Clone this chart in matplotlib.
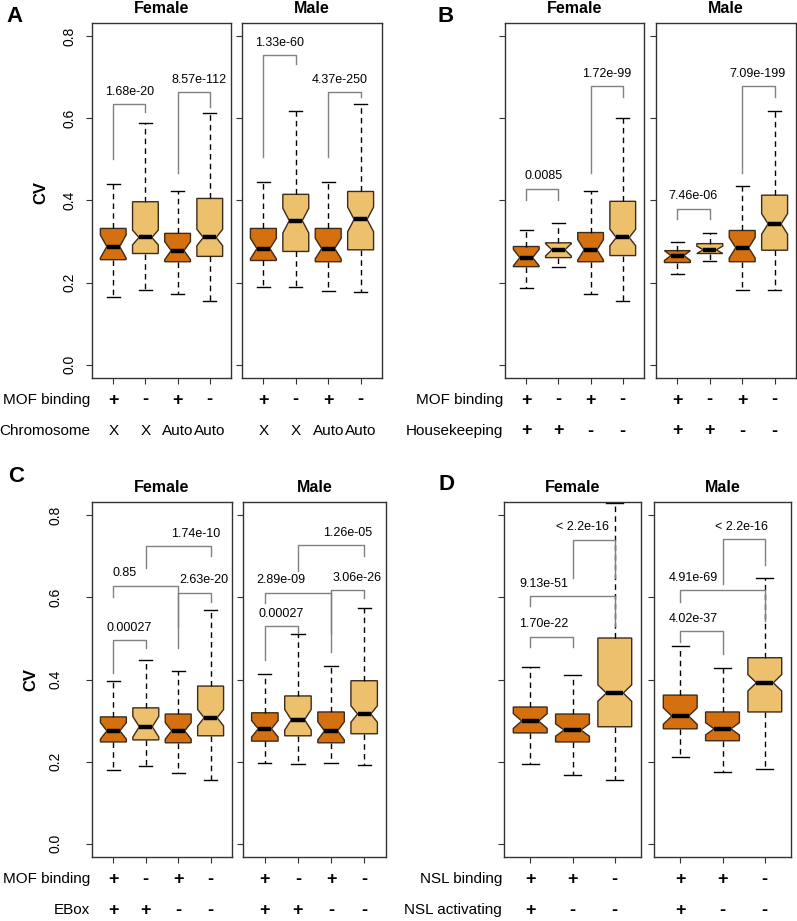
import matplotlib
matplotlib.use("Agg")
import matplotlib.pyplot as plt
from matplotlib import transforms

plt.rcParams["font.family"] = ["Liberation Sans", "DejaVu Sans"]

DARK = "#D4700F"
LIGHT = "#ECC06D"
EDGE = "#3d2b1a"
BRACKET = "#808080"

# five-number summaries per box: (lower whisker, q1, median, q3, upper whisker)
a_female = [(0.166, 0.256, 0.288, 0.332, 0.441), (0.183, 0.271, 0.310, 0.397, 0.588),
            (0.173, 0.251, 0.278, 0.320, 0.422), (0.156, 0.264, 0.310, 0.405, 0.612)]
a_male = [(0.190, 0.254, 0.283, 0.332, 0.444), (0.190, 0.276, 0.351, 0.415, 0.617),
          (0.180, 0.251, 0.283, 0.332, 0.444), (0.178, 0.280, 0.354, 0.422, 0.636)]
b_female = [(0.188, 0.239, 0.261, 0.288, 0.327), (0.237, 0.261, 0.280, 0.297, 0.346),
            (0.173, 0.251, 0.280, 0.322, 0.422), (0.156, 0.266, 0.310, 0.398, 0.600)]
b_male = [(0.222, 0.249, 0.266, 0.278, 0.300), (0.252, 0.271, 0.280, 0.295, 0.320),
          (0.183, 0.251, 0.285, 0.327, 0.435), (0.183, 0.279, 0.343, 0.413, 0.617)]
c_female = [(0.180, 0.248, 0.275, 0.309, 0.397), (0.190, 0.253, 0.285, 0.331, 0.448),
            (0.173, 0.246, 0.275, 0.316, 0.421), (0.156, 0.263, 0.307, 0.384, 0.569)]
c_male = [(0.197, 0.250, 0.280, 0.319, 0.414), (0.195, 0.263, 0.302, 0.360, 0.511),
          (0.197, 0.246, 0.275, 0.321, 0.433), (0.192, 0.268, 0.316, 0.397, 0.574)]
d_female = [(0.195, 0.270, 0.299, 0.333, 0.430), (0.168, 0.248, 0.277, 0.316, 0.411),
            (0.156, 0.285, 0.367, 0.501, 0.830)]
d_male = [(0.212, 0.280, 0.311, 0.362, 0.482), (0.175, 0.251, 0.280, 0.321, 0.428),
          (0.182, 0.321, 0.392, 0.453, 0.647)]

# notch half-lengths
a_female_notch = [0.028, 0.018, 0.022, 0.020]
a_male_notch = [0.025, 0.030, 0.025, 0.030]
b_female_notch = [0.020, 0.015, 0.025, 0.020]
b_male_notch = [0.012, 0.009, 0.025, 0.025]
c_female_notch = [0.020, 0.025, 0.020, 0.020]
c_male_notch = [0.020, 0.025, 0.022, 0.020]
d_female_notch = [0.018, 0.015, 0.020]
d_male_notch = [0.020, 0.015, 0.020]

# p-value brackets: (left box, right box, left leg bottom, top, right leg bottom, label, label x)
a_female_brackets = [(1, 2, 0.500, 0.634, 0.615, "1.68e-20", 1.5),
                     (3, 4, 0.466, 0.663, 0.627, "8.57e-112", 3.66)]
a_male_brackets = [(1, 2, 0.505, 0.754, 0.732, "1.33e-60", 1.5),
                   (3, 4, 0.505, 0.663, 0.651, "4.37e-250", 3.34)]
b_female_brackets = [(1, 2, 0.402, 0.429, 0.402, "0.0085", 1.53),
                     (3, 4, 0.468, 0.678, 0.651, "1.72e-99", 3.5)]
b_male_brackets = [(1, 2, 0.354, 0.380, 0.354, "7.46e-06", 1.48),
                   (3, 4, 0.468, 0.678, 0.651, "7.09e-199", 3.47)]
c_female_brackets = [(1, 2, 0.416, 0.496, 0.477, "0.00027", 1.49),
                     (1, 3, 0.601, 0.628, 0.477, "0.85", 1.33),
                     (3, 4, 0.528, 0.611, 0.589, "2.63e-20", 3.78),
                     (2, 4, 0.672, 0.725, 0.701, "1.74e-10", 3.53)]
c_male_brackets = [(1, 2, 0.448, 0.530, 0.513, "0.00027", 1.5),
                   (1, 3, 0.586, 0.611, 0.467, "2.89e-09", 1.47),
                   (3, 4, 0.513, 0.618, 0.599, "3.06e-26", 3.78),
                   (2, 4, 0.664, 0.727, 0.701, "1.26e-05", 3.5)]
d_female_brackets = [(1, 2, 0.479, 0.504, 0.479, "1.70e-22", 1.32),
                     (1, 3, 0.579, 0.603, 0.530, "9.13e-51", 1.32),
                     (2, 3, 0.647, 0.740, 0.647, "< 2.2e-16", 2.23)]
d_male_brackets = [(1, 2, 0.491, 0.518, 0.462, "4.02e-37", 1.3),
                   (1, 3, 0.589, 0.618, 0.543, "4.91e-69", 1.3),
                   (2, 3, 0.633, 0.742, 0.679, "< 2.2e-16", 2.45)]

four_colors = [DARK, LIGHT, DARK, LIGHT]
d_colors = [DARK, DARK, LIGHT]

a_rows = ["MOF binding", "Chromosome"]
a_values = [["+", "-", "+", "-"], ["X", "X", "Auto", "Auto"]]
b_rows = ["MOF binding", "Housekeeping"]
b_values = [["+", "-", "+", "-"], ["+", "+", "-", "-"]]
c_rows = ["MOF binding", "EBox"]
c_values = [["+", "-", "+", "-"], ["+", "+", "-", "-"]]
d_rows = ["NSL binding", "NSL activating"]
d_values = [["+", "+", "-"], ["+", "-", "-"]]

y_ticks = [0.0, 0.2, 0.4, 0.6, 0.8]

W, H = 797, 921
ROW_OFFSETS = [22, 53]  # pixels below the frame
fig = plt.figure(figsize=(W / 100, H / 100), dpi=100)


def make_axes(left, top, right, bottom):
    return fig.add_axes([left / W, 1 - bottom / H, (right - left) / W, (bottom - top) / H])


def draw(ax, stats, notches, colors, brackets, title, values, first, label_pad):
    n = len(stats)
    pos = list(range(1, n + 1))
    bstats = []
    for (lo, q1, med, q3, hi), nh in zip(stats, notches):
        bstats.append(dict(whislo=lo, q1=q1, med=med, q3=q3, whishi=hi,
                           cilo=med - nh, cihi=med + nh, fliers=[]))
    bp = ax.bxp(bstats, positions=pos, widths=0.8, shownotches=True, patch_artist=True,
                showfliers=False, manage_ticks=False,
                boxprops=dict(edgecolor=EDGE, linewidth=1),
                whiskerprops=dict(color="black", linewidth=1, linestyle=(0, (4, 3))),
                capprops=dict(color="black", linewidth=1),
                medianprops=dict(color="black", linewidth=3.2, solid_capstyle="butt"))
    for patch, c in zip(bp["boxes"], colors):
        patch.set_facecolor(c)

    for i, j, yl, yt, yr, label, tx in brackets:
        ax.plot([i, i, j, j], [yl, yt, yt, yr], color=BRACKET, linewidth=1)
        ax.text(tx, yt + 0.03, label, ha="center", va="center", fontsize=9)

    ax.set_xlim(0.5 - 0.04 * n, n + 0.5 + 0.04 * n)
    ax.set_ylim(-0.032, 0.832)
    ax.set_xticks(pos)
    ax.set_xticklabels([])
    ax.set_yticks(y_ticks)
    if first:
        ax.set_yticklabels([f"{t:.1f}" for t in y_ticks], rotation=90, va="center")
    else:
        ax.set_yticklabels([])
    ax.tick_params(length=4, width=0.8, color="#333333", labelsize=10, pad=label_pad)
    for s in ax.spines.values():
        s.set_color("#333333")
        s.set_linewidth(1.0)
    ax.set_title(title, fontsize=11.5, fontweight="bold", pad=7)

    trans = transforms.blended_transform_factory(ax.transData, ax.transAxes)
    height = ax.get_position().height * H
    for off, vals in zip(ROW_OFFSETS, values):
        y = -off / height
        for p, v in zip(pos, vals):
            if v in "+-":
                ax.text(p, y, v, transform=trans, ha="center", va="center",
                        fontsize=13, fontweight="bold")
            else:
                ax.text(p, y, v, transform=trans, ha="center", va="center", fontsize=11)


def row_labels(ax, rows):
    height = ax.get_position().height * H
    width = ax.get_position().width * W
    for off, row in zip(ROW_OFFSETS, rows):
        ax.text(-2 / width, -off / height, row, transform=ax.transAxes,
                ha="right", va="center", fontsize=11)


ax = make_axes(92, 23, 231, 378)
draw(ax, a_female, a_female_notch, four_colors, a_female_brackets, "Female", a_values, True, 7)
row_labels(ax, a_rows)
ax = make_axes(242, 23, 382, 378)
draw(ax, a_male, a_male_notch, four_colors, a_male_brackets, "Male", a_values, False, 7)

ax = make_axes(505, 23, 644, 378)
draw(ax, b_female, b_female_notch, four_colors, b_female_brackets, "Female", b_values, False, 7)
row_labels(ax, b_rows)
ax = make_axes(656, 23, 796, 378)
draw(ax, b_male, b_male_notch, four_colors, b_male_brackets, "Male", b_values, False, 7)

ax = make_axes(92, 502, 232, 857)
draw(ax, c_female, c_female_notch, four_colors, c_female_brackets, "Female", c_values, True, 17)
row_labels(ax, c_rows)
ax = make_axes(243, 502, 386, 857)
draw(ax, c_male, c_male_notch, four_colors, c_male_brackets, "Male", c_values, False, 7)

ax = make_axes(504, 502, 641, 857)
draw(ax, d_female, d_female_notch, d_colors, d_female_brackets, "Female", d_values, False, 7)
row_labels(ax, d_rows)
ax = make_axes(654, 502, 791, 857)
draw(ax, d_male, d_male_notch, d_colors, d_male_brackets, "Male", d_values, False, 7)

# panel letters and y labels
for letter, x, y in [("A", 15, 17), ("B", 446, 17), ("C", 16, 476), ("D", 447, 484)]:
    fig.text(x / W, 1 - y / H, letter, fontsize=16, fontweight="bold", ha="center", va="center")
fig.text(41 / W, 1 - 193 / H, "CV", fontsize=12, fontweight="bold", rotation=90, ha="center", va="center")
fig.text(31 / W, 1 - 679 / H, "CV", fontsize=12, fontweight="bold", rotation=90, ha="center", va="center")

fig.savefig("out.png", dpi=100)
